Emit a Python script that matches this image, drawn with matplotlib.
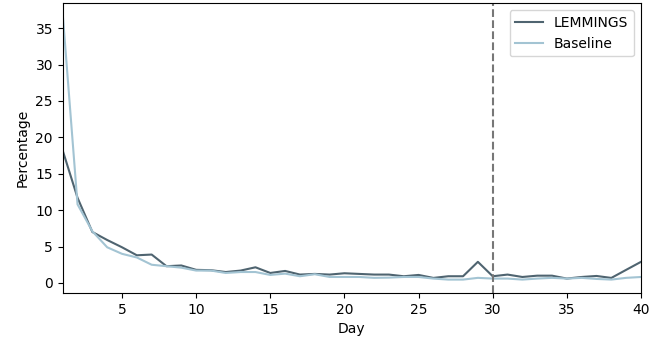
import matplotlib
matplotlib.use("Agg")
import matplotlib.pyplot as plt
import numpy as np

days = list(range(1, 41))
lemmings = [18.2, 11.7, 7.0, 5.9, 4.9, 3.8, 3.9, 2.3, 2.4, 1.8,
            1.75, 1.5, 1.7, 2.15, 1.37, 1.65, 1.15, 1.24, 1.15, 1.33,
            1.24, 1.15, 1.15, 0.92, 1.1, 0.69, 0.92, 0.92, 2.9, 0.92,
            1.15, 0.82, 1.0, 1.0, 0.6, 0.82, 0.96, 0.69, 1.8, 2.9]
baseline = [37.0, 10.8, 7.1, 4.9, 4.0, 3.5, 2.5, 2.3, 2.1, 1.7,
            1.7, 1.37, 1.5, 1.5, 1.1, 1.28, 0.92, 1.2, 0.82, 0.82,
            0.82, 0.7, 0.73, 0.82, 0.82, 0.6, 0.46, 0.46, 0.7, 0.6,
            0.6, 0.46, 0.6, 0.7, 0.6, 0.7, 0.55, 0.46, 0.7, 0.82]
cutoff_day = 30

fig = plt.figure(figsize=(6.67, 3.41), dpi=100)
ax = fig.add_axes([0.094, 0.141, 0.867, 0.849])
ax.plot(days, lemmings, color="#4f6470", lw=1.5, label="LEMMINGS")
ax.plot(days, baseline, color="#a3c4d3", lw=1.5, label="Baseline")
ax.axvline(cutoff_day, color="#777777", ls="--", lw=1.5)
ax.set_xlim(1, 40)
ax.set_ylim(-1.37, 38.4)
ax.set_xticks([5, 10, 15, 20, 25, 30, 35, 40])
ax.set_yticks([0, 5, 10, 15, 20, 25, 30, 35])
ax.set_xlabel("Day")
ax.set_ylabel("Percentage")
ax.legend(loc="upper right")
fig.savefig("out.png", dpi=100)
